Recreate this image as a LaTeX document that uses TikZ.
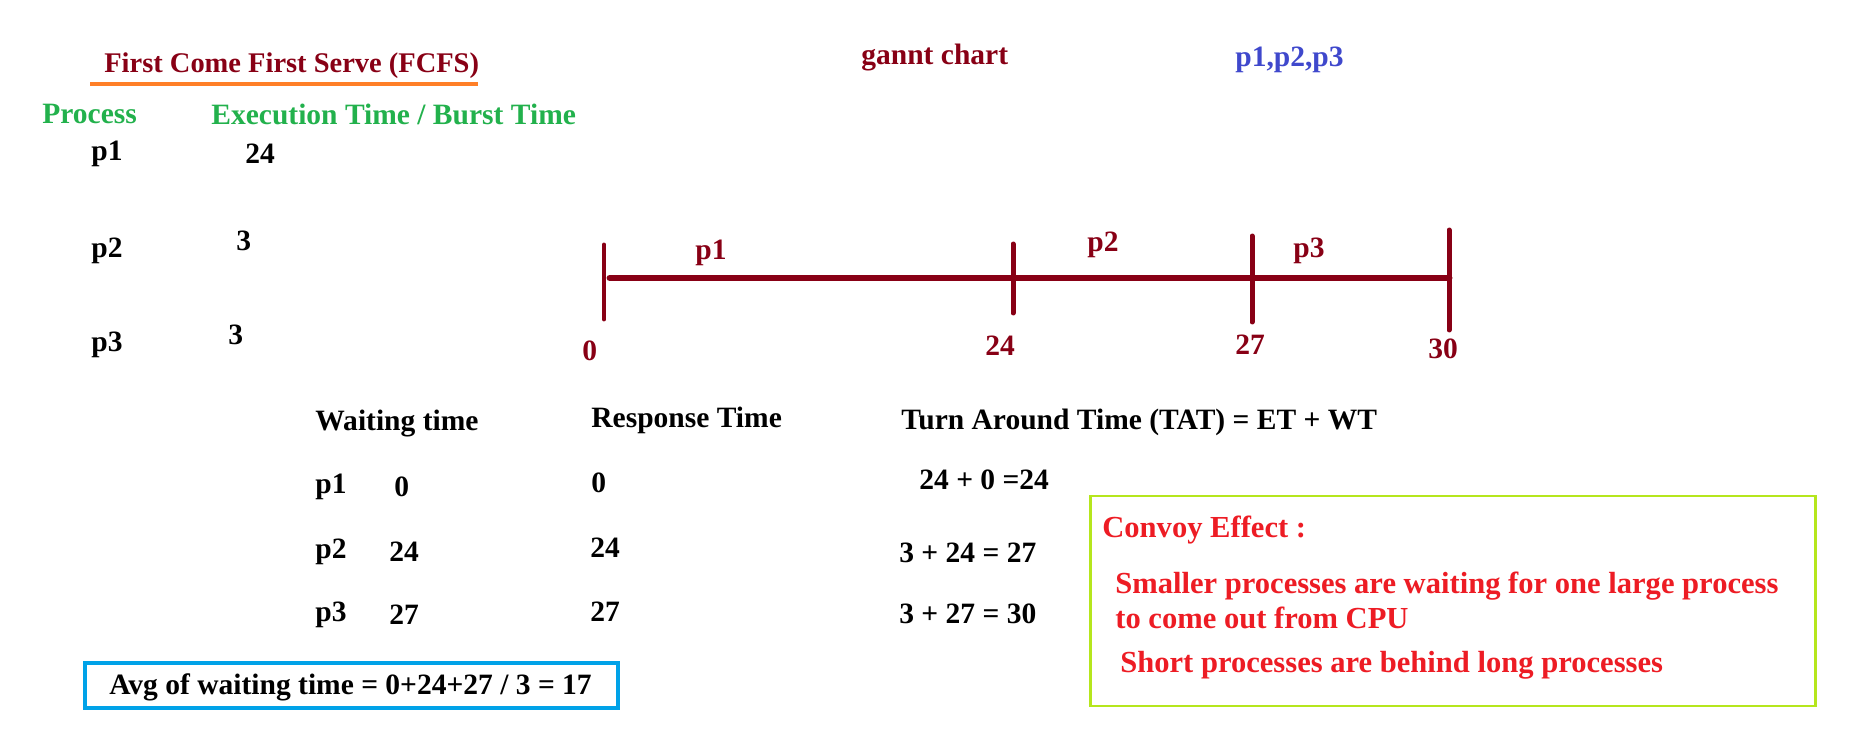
\documentclass[tikz,border=0pt]{standalone}
\usepackage{fontspec}
\setmainfont{Liberation Serif}
\usetikzlibrary{positioning}
\definecolor{gantred}{RGB}{136,0,21}
\definecolor{headgreen}{RGB}{34,177,76}
\definecolor{seqblue}{RGB}{63,72,204}
\definecolor{lineorange}{RGB}{255,127,39}
\definecolor{avgcyan}{RGB}{0,162,232}
\definecolor{convoylime}{RGB}{181,230,29}
\definecolor{convoyred}{RGB}{237,28,36}

\begin{document}
\begin{tikzpicture}[
  x=0.02cm,y=-0.02cm,
  font=\bfseries\fontsize{16.8}{20}\selectfont,
  txt/.style={anchor=west,inner sep=0pt,yshift=-1.5pt},
  head/.style={txt,text=headgreen},
  redtxt/.style={txt,text=gantred},
  note/.style={txt,text=convoyred,font=\bfseries\fontsize{17.4}{21}\selectfont},
  bar/.style={draw=gantred,line width=7pt*0.5669,line cap=round},
  tick/.style={draw=gantred,line width=5pt*0.5669,line cap=round}]
\useasboundingbox (0,0) rectangle (1850,743);
% table of bursts
\node[redtxt,font=\bfseries\fontsize{16.2}{19}\selectfont] (title) at (104,63) {First Come First Serve (FCFS)};
\draw[lineorange,line width=2.3pt] (90,84) -- (478,84);
\node[head] (proc) at (42,111) {Process};
\node[head] (burst) at (211,112) {Execution Time / Burst Time};
\node[txt] (bp1) at (91,151) {p1};
\node[txt] (bt1) at (245,151) {24};
\node[txt] (bp2) at (91,248) {p2};
\node[txt] (bt2) at (236,238) {3};
\node[txt] (bp3) at (91,342) {p3};
\node[txt] (bt3) at (228,332) {3};
% gantt chart
\node[redtxt] (gantttitle) at (861,55) {gannt chart};
\node[txt,text=seqblue] (order) at (1235,57) {p1,p2,p3};
\coordinate (t0) at (604,278);
\coordinate (t24) at (1013,278);
\coordinate (t27) at (1252,278);
\coordinate (t30) at (1449,278);
\draw[bar] (610,278) -- (t30);
\draw[tick] (604,245) -- (604,319);
\draw[tick] (1013,244) -- (1013,313);
\draw[tick] (1252,236) -- (1252,322);
\draw[tick] (1449,230) -- (1449,330);
\node[redtxt] (gp1) at (695,250) {p1};
\node[redtxt] (gp2) at (1087,242) {p2};
\node[redtxt] (gp3) at (1293,248) {p3};
\node[redtxt] (n0) at (582,348) {0};
\node[redtxt] (n24) at (985,343) {24};
\node[redtxt] (n27) at (1235,342) {27};
\node[redtxt] (n30) at (1428,346) {30};
% times
\node[txt] (wait) at (315,421) {Waiting time};
\node[txt] (resp) at (591,418) {Response Time};
\node[txt] (tat) at (901,420) {Turn Around Time (TAT) = ET + WT};
\node[txt] (wp1) at (315,484) {p1};
\node[txt] (wt1) at (394,484) {0};
\node[txt] (wp2) at (315,549) {p2};
\node[txt] (wt2) at (389,549) {24};
\node[txt] (wp3) at (315,612) {p3};
\node[txt] (wt3) at (389,612) {27};
\node[txt] (rt1) at (591,480) {0};
\node[txt] (rt2) at (590,545) {24};
\node[txt] (rt3) at (590,609) {27};
\node[txt] (ta1) at (919,477) {24 + 0 =24};
\node[txt] (ta2) at (899,550) {3 + 24 = 27};
\node[txt] (ta3) at (899,611) {3 + 27 = 30};
% average
\draw[avgcyan,line width=2.8pt] (85,663) rectangle (618,708);
\node[txt] (avg) at (109,685) {Avg of waiting time = 0+24+27 / 3 = 17};
% convoy effect
\draw[convoylime,line width=1.7pt] (1090,496) rectangle (1815,706);
\node[note] (convoy) at (1102,527) {Convoy Effect :};
\node[note] (small1) at (1115,583) {Smaller processes are waiting for one large process};
\node[note] (small2) at (1115,615) {to come out from CPU};
\node[note] (short) at (1120,663) {Short processes are behind long processes};
\end{tikzpicture}
\end{document}
